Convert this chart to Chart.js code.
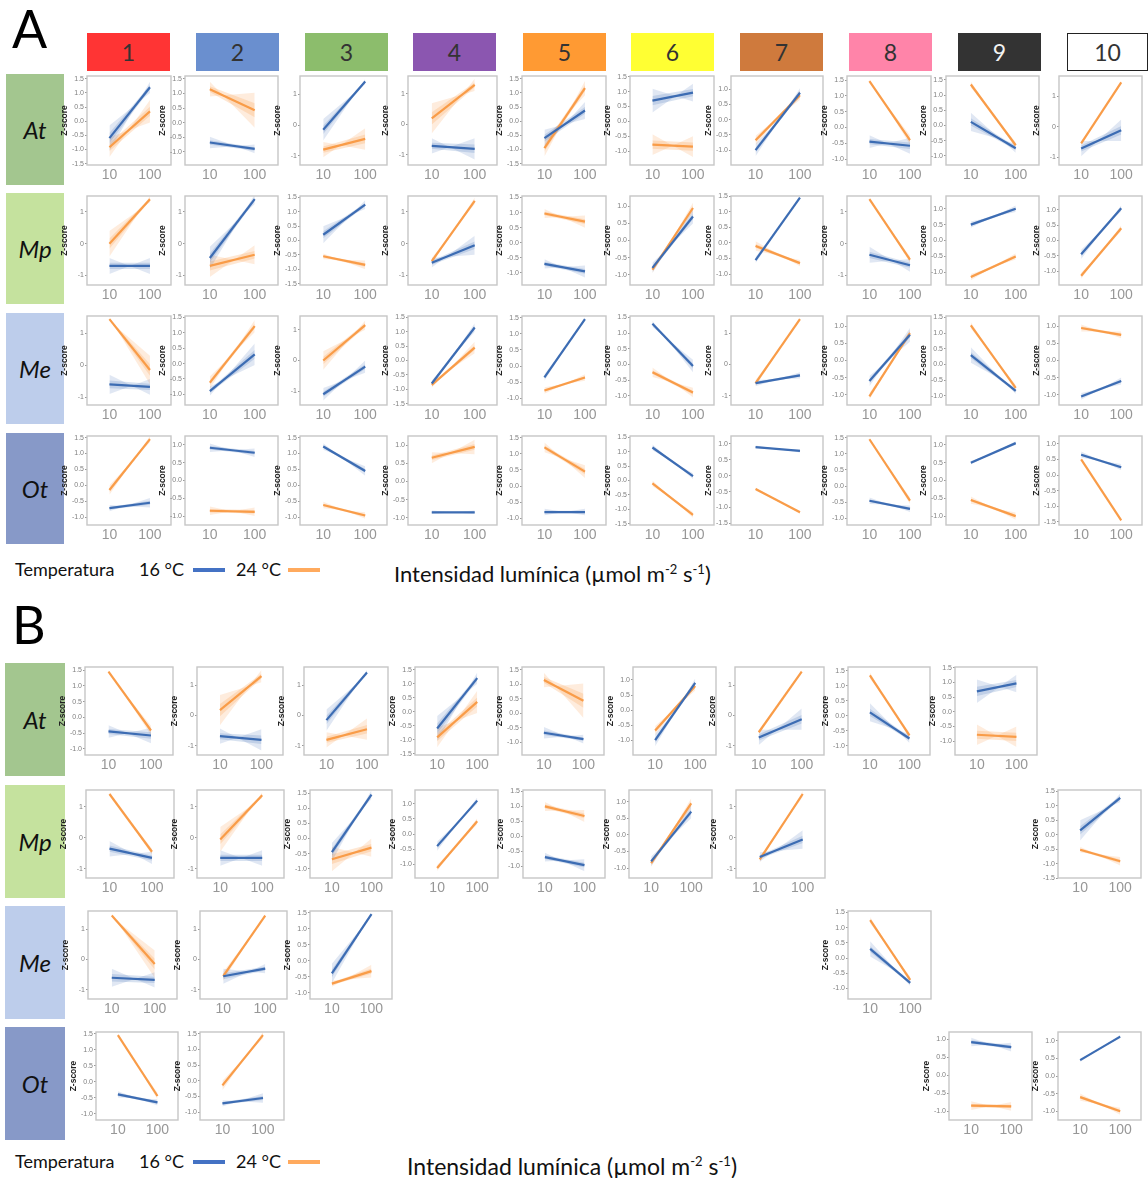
<!DOCTYPE html>
<html>
<head>
<meta charset="utf-8">
<script src="https://cdn.jsdelivr.net/npm/chart.js@4.4.1/dist/chart.umd.min.js"></script>
<style>
  html, body { margin: 0; padding: 0; background: #fff; }
  #page { position: relative; width: 1148px; height: 1178px; overflow: hidden; font-family: Lato, "Open Sans", sans-serif; }
  .abs { position: absolute; }
  .letter { font-size: 52px; line-height: 52px; color: #000; }
  .hdr { display: flex; align-items: center; justify-content: center; font-size: 23px; color: #333; box-sizing: border-box; }
  .rowlab { display: flex; align-items: center; justify-content: center; font-size: 24px; font-style: italic; color: #111; }
  .leg { font-size: 18px; color: #111; white-space: nowrap; line-height: 20px; }
  .sw { position: absolute; height: 4px; }
  .xl { font-size: 22px; color: #111; white-space: nowrap; line-height: 24px; }
  .xl sup { font-size: 13px; }
  canvas { position: absolute; }
</style>
</head>
<body>
<div id="page"></div>
<script>
// ---------- data: Z-score at 10 and 100 µmol m-2 s-1, per cluster ----------
const X_TICKS = [10, 100];
const CLUSTERS = ['1', '2', '3', '4', '5', '6', '7', '8', '9', '10'];
const SPECIES = ['At', 'Mp', 'Me', 'Ot'];

// Panel A: all ten clusters per species. [value at 10, value at 100]
const A_At_blue   = [[-0.6, 1.2], [-0.68, -0.9], [-0.15, 1.42], [-0.7, -0.8], [-0.6, 0.38], [0.7, 0.97], [-1.0, 0.88], [-0.45, -0.58], [0.12, -0.75], [-0.72, -0.12]];
const A_At_orange = [[-0.92, 0.35], [1.15, 0.43], [-0.8, -0.45], [0.2, 1.3], [-0.95, 1.17], [-0.78, -0.85], [-0.68, 0.8], [1.47, -0.4], [1.35, -0.65], [-0.55, 1.45]];
const A_At_y      = [[-1.55, 1.6, 0.5], [-1.45, 1.6, 0.5], [-1.3, 1.6, 1], [-1.33, 1.59, 1], [-1.55, 1.6, 0.5], [-1.47, 1.53, 0.5], [-1.49, 1.43, 0.5], [-1.19, 1.63, 0.5], [-1.3, 1.63, 0.5], [-1.26, 1.66, 1]];
const A_At_band   = [[0.45, 0.2, 0.35, 0.4], [0.2, 0.15, 0.25, 0.6], [0.35, 0.08, 0.25, 0.35], [0.25, 0.35, 0.5, 0.2], [0.3, 0.3, 0.3, 0.25], [0.4, 0.3, 0.35, 0.35], [0.2, 0.15, 0.15, 0.15], [0.2, 0.25, 0.05, 0.15], [0.3, 0.15, 0.1, 0.1], [0.25, 0.35, 0.05, 0.05]];

const A_Mp_blue   = [[-0.7, -0.7], [-0.45, 1.4], [0.2, 1.25], [-0.6, -0.05], [-0.7, -0.95], [-0.8, 0.7], [-0.55, 1.45], [-0.35, -0.68], [0.5, 1.0], [-0.45, 1.05]];
const A_Mp_orange = [[0.0, 1.4], [-0.7, -0.35], [-0.55, -0.85], [-0.55, 1.35], [0.97, 0.7], [-0.85, 0.95], [-0.1, -0.65], [1.4, -0.5], [-1.15, -0.5], [-1.15, 0.4]];
const A_Mp_y      = [[-1.3, 1.5, 1], [-1.3, 1.5, 1], [-1.55, 1.55, 0.5], [-1.3, 1.5, 1], [-1.4, 1.55, 0.5], [-1.3, 1.3, 0.5], [-1.35, 1.5, 0.5], [-1.3, 1.5, 1], [-1.4, 1.4, 0.5], [-1.45, 1.45, 0.5]];
const A_Mp_band   = [[0.25, 0.25, 0.4, 0.1], [0.35, 0.15, 0.35, 0.3], [0.3, 0.15, 0.1, 0.15], [0.15, 0.3, 0.1, 0.1], [0.15, 0.2, 0.15, 0.2], [0.15, 0.2, 0.1, 0.15], [0.1, 0.05, 0.15, 0.1], [0.25, 0.2, 0.05, 0.1], [0.1, 0.1, 0.1, 0.1], [0.15, 0.1, 0.1, 0.1]];

const A_Me_blue   = [[-0.6, -0.68], [-0.9, 0.3], [-1.1, -0.2], [-0.8, 1.15], [-0.35, 1.45], [1.3, -0.05], [-0.6, -0.35], [-0.6, 0.75], [0.3, -0.85], [-1.05, -0.6]];
const A_Me_orange = [[1.45, -0.15], [-0.62, 1.22], [0.0, 1.15], [-0.85, 0.45], [-0.75, -0.35], [-0.25, -0.9], [-0.6, 1.45], [-1.05, 0.8], [1.25, -0.75], [0.95, 0.75]];
const A_Me_y      = [[-1.25, 1.55, 1], [-1.35, 1.55, 0.5], [-1.45, 1.45, 1], [-1.55, 1.55, 0.5], [-1.2, 1.55, 0.5], [-1.3, 1.55, 0.5], [-1.3, 1.55, 1], [-1.3, 1.3, 0.5], [-1.3, 1.55, 0.5], [-1.3, 1.3, 0.5]];
const A_Me_band   = [[0.3, 0.25, 0.05, 0.45], [0.15, 0.35, 0.2, 0.2], [0.2, 0.2, 0.3, 0.15], [0.1, 0.15, 0.1, 0.2], [0.1, 0.05, 0.1, 0.1], [0.1, 0.2, 0.15, 0.15], [0.1, 0.1, 0.1, 0.05], [0.15, 0.2, 0.1, 0.1], [0.25, 0.1, 0.1, 0.1], [0.1, 0.1, 0.1, 0.1]];

const A_Ot_blue   = [[-0.72, -0.55], [0.92, 0.78], [1.22, 0.45], [-0.85, -0.85], [-0.8, -0.8], [1.15, 0.15], [0.9, 0.78], [-0.45, -0.7], [0.5, 1.05], [0.65, 0.25]];
const A_Ot_orange = [[-0.15, 1.45], [-0.85, -0.88], [-0.62, -0.95], [0.65, 0.95], [1.2, 0.45], [-0.1, -1.2], [-0.42, -1.15], [1.45, -0.45], [-0.55, -1.0], [0.5, -1.45]];
const A_Ot_y      = [[-1.25, 1.55, 0.5], [-1.25, 1.25, 0.5], [-1.25, 1.55, 0.5], [-1.2, 1.25, 0.5], [-1.2, 1.55, 0.5], [-1.55, 1.55, 0.5], [-1.55, 1.25, 0.5], [-1.2, 1.55, 0.5], [-1.25, 1.25, 0.5], [-1.6, 1.25, 0.5]];
const A_Ot_band   = [[0.1, 0.15, 0.15, 0.1], [0.12, 0.12, 0.12, 0.12], [0.1, 0.15, 0.1, 0.1], [0.05, 0.05, 0.15, 0.2], [0.1, 0.1, 0.15, 0.2], [0.1, 0.1, 0.1, 0.1], [0.05, 0.05, 0.05, 0.05], [0.1, 0.1, 0.05, 0.1], [0.05, 0.05, 0.1, 0.1], [0.1, 0.1, 0.05, 0.05]];

// Panel B: only the clusters present per species (1-based cluster numbers)
const B_At_cols   = [1, 2, 3, 4, 5, 6, 7, 8, 9];
const B_At_blue   = [[-0.45, -0.58], [-0.68, -0.8], [-0.15, 1.42], [-0.6, 1.2], [-0.68, -0.9], [-1.0, 0.9], [-0.72, -0.12], [0.12, -0.75], [0.7, 0.97]];
const B_At_orange = [[1.45, -0.42], [0.18, 1.3], [-0.8, -0.45], [-0.92, 0.35], [1.15, 0.43], [-0.68, 0.8], [-0.55, 1.45], [1.35, -0.65], [-0.78, -0.85]];
const B_At_y      = [[-1.2, 1.6, 0.5], [-1.3, 1.6, 1], [-1.3, 1.6, 1], [-1.55, 1.6, 0.5], [-1.45, 1.6, 0.5], [-1.49, 1.43, 0.5], [-1.3, 1.6, 1], [-1.3, 1.63, 0.5], [-1.47, 1.53, 0.5]];
const B_At_band   = [[0.2, 0.25, 0.05, 0.15], [0.25, 0.35, 0.5, 0.2], [0.35, 0.08, 0.25, 0.35], [0.45, 0.2, 0.35, 0.4], [0.2, 0.15, 0.25, 0.6], [0.2, 0.15, 0.15, 0.15], [0.25, 0.35, 0.05, 0.05], [0.3, 0.15, 0.1, 0.1], [0.4, 0.3, 0.35, 0.35]];

const B_Mp_cols   = [1, 2, 3, 4, 5, 6, 7, 10];
const B_Mp_blue   = [[-0.35, -0.65], [-0.65, -0.65], [-0.45, 1.45], [-0.4, 1.1], [-0.7, -0.97], [-0.8, 0.7], [-0.62, -0.05], [0.15, 1.28]];
const B_Mp_orange = [[1.42, -0.45], [-0.05, 1.38], [-0.68, -0.3], [-1.12, 0.42], [1.0, 0.68], [-0.85, 0.95], [-0.7, 1.42], [-0.52, -0.92]];
const B_Mp_y      = [[-1.3, 1.55, 1], [-1.3, 1.55, 1], [-1.3, 1.6, 0.5], [-1.45, 1.45, 0.5], [-1.4, 1.55, 0.5], [-1.3, 1.35, 0.5], [-1.3, 1.55, 1], [-1.5, 1.55, 0.5]];
const B_Mp_band   = [[0.25, 0.2, 0.05, 0.1], [0.25, 0.25, 0.4, 0.1], [0.3, 0.15, 0.4, 0.3], [0.15, 0.1, 0.1, 0.1], [0.15, 0.2, 0.15, 0.2], [0.15, 0.2, 0.1, 0.15], [0.15, 0.3, 0.1, 0.1], [0.35, 0.15, 0.1, 0.15]];

const B_Me_cols   = [1, 2, 3, 8];
const B_Me_blue   = [[-0.6, -0.67], [-0.55, -0.3], [-0.4, 1.45], [0.3, -0.82]];
const B_Me_orange = [[1.45, -0.15], [-0.55, 1.45], [-0.72, -0.33], [1.25, -0.72]];
const B_Me_y      = [[-1.3, 1.6, 1], [-1.3, 1.6, 1], [-1.2, 1.55, 0.5], [-1.35, 1.55, 0.5]];
const B_Me_band   = [[0.3, 0.25, 0.05, 0.45], [0.25, 0.15, 0.15, 0.05], [0.3, 0.05, 0.1, 0.2], [0.25, 0.1, 0.1, 0.1]];

const B_Ot_cols   = [1, 2, 9, 10];
const B_Ot_blue   = [[-0.4, -0.65], [-0.72, -0.55], [0.92, 0.78], [0.45, 1.12]];
const B_Ot_orange = [[1.45, -0.45], [-0.15, 1.45], [-0.85, -0.87], [-0.6, -1.0]];
const B_Ot_y      = [[-1.2, 1.55, 0.5], [-1.25, 1.55, 0.5], [-1.25, 1.2, 0.5], [-1.25, 1.25, 0.5]];
const B_Ot_band   = [[0.1, 0.1, 0.05, 0.1], [0.1, 0.15, 0.15, 0.1], [0.12, 0.12, 0.12, 0.12], [0.05, 0.05, 0.1, 0.1]];

// ---------- layout and styling ----------
const page = document.getElementById('page');
const BLUE = '#3c6cb3', ORANGE = '#f99c48';
const BLUE_FAN = 'rgba(60,108,179,0.16)', ORANGE_FAN = 'rgba(249,156,72,0.19)';
const BLUE_CORE = 'rgba(60,108,179,0.2)', ORANGE_CORE = 'rgba(249,156,72,0.24)';
const HEADER_COLORS = ['#ff3434', '#6a8fcf', '#8cbd6c', '#8b56b0', '#ff9a33', '#ffff33', '#cf7a3d', '#ff84a9', '#333333', '#ffffff'];
const HEADER_LEFT = [87, 196, 305, 413, 523, 631, 740, 849, 958, 1067];
const ROW_COLORS = ['#a3c68f', '#c5e29e', '#bdcdeb', '#8799c8'];

// plot-box x ranges per column (A) and per row (B)
const A_BOX_L = [87, 185, 300, 408, 522, 630, 731, 847, 946, 1059];
const A_BOX_R = [171, 278, 387, 497, 606, 714, 823, 931, 1039, 1142];
const A_ROW_TOP = [76, 196, 316, 436];
const B_ROW_TOP = [667, 790, 911, 1032];
const B_BOX = {
  At: [[85, 173], [197, 283], [304, 388], [415, 498], [522, 604], [633, 716], [735, 824], [848, 930], [955, 1037]],
  Mp: [[86, 174], [197, 284], [310, 392], [415, 498], [523, 605], [629, 712], [736, 825], [1058, 1141]],
  Me: [[88, 177], [200, 287], [310, 392], [848, 931]],
  Ot: [[96, 178], [200, 284], [949, 1032], [1058, 1141]]
};

function addDiv(cls, css, html) {
  const d = document.createElement('div');
  d.className = 'abs ' + cls;
  Object.assign(d.style, css);
  if (html !== undefined) d.innerHTML = html;
  page.appendChild(d);
  return d;
}

// border around each plotting area
const boxPlugin = {
  id: 'plotBox',
  afterDraw(chart) {
    const a = chart.chartArea, ctx = chart.ctx;
    ctx.save();
    ctx.strokeStyle = '#c6c6c6';
    ctx.lineWidth = 1.4;
    ctx.strokeRect(a.left, a.top, a.right - a.left, a.bottom - a.top);
    ctx.restore();
  }
};

function meanLine(v, color) {
  return { data: [{ x: 10, y: v[0] }, { x: 100, y: v[1] }], borderColor: color, borderWidth: 2.2, pointRadius: 0, fill: false };
}
// crossing envelope of the resampled fits (upper at 10 joins lower at 100)
function fan(v, ws, we, color) {
  return [
    { data: [{ x: 10, y: v[0] + ws }, { x: 100, y: v[1] - we }], borderColor: 'rgba(0,0,0,0)', borderWidth: 0.01, pointRadius: 0, fill: false },
    { data: [{ x: 10, y: v[0] - ws }, { x: 100, y: v[1] + we }], borderColor: 'rgba(0,0,0,0)', borderWidth: 0.01, pointRadius: 0, fill: '-1', backgroundColor: color }
  ];
}
// denser core of the resampled fits around the mean line
function core(v, ws, we, color) {
  return [
    { data: [{ x: 10, y: v[0] + ws * 0.4 }, { x: 100, y: v[1] + we * 0.4 }], borderColor: 'rgba(0,0,0,0)', borderWidth: 0.01, pointRadius: 0, fill: false },
    { data: [{ x: 10, y: v[0] - ws * 0.4 }, { x: 100, y: v[1] - we * 0.4 }], borderColor: 'rgba(0,0,0,0)', borderWidth: 0.01, pointRadius: 0, fill: '-1', backgroundColor: color }
  ];
}

function fmtTick(v, step) {
  const r = Math.abs(v) < 1e-9 ? 0 : v;
  return step < 1 ? r.toFixed(1) : r.toFixed(0);
}

function panel(boxL, boxR, boxT, boxH, blue, orange, yax, band) {
  const YW = 27, XH = 20, PT = 6, PR = 3;
  const w = YW + (boxR - boxL) + PR, h = PT + boxH + XH;
  const cv = document.createElement('canvas');
  cv.width = w; cv.height = h;
  cv.style.left = (boxL - YW) + 'px';
  cv.style.top = (boxT - PT) + 'px';
  cv.style.width = w + 'px';
  cv.style.height = h + 'px';
  page.appendChild(cv);
  const [bs, be, os, oe] = band;
  const datasets = [
    meanLine(blue, BLUE), meanLine(orange, ORANGE),
    ...core(blue, bs, be, BLUE_CORE), ...fan(blue, bs, be, BLUE_FAN),
    ...core(orange, os, oe, ORANGE_CORE), ...fan(orange, os, oe, ORANGE_FAN)
  ];
  const [yMin, yMax, step] = yax;
  new Chart(cv, {
    type: 'line',
    data: { datasets },
    plugins: [boxPlugin],
    options: {
      responsive: false, animation: false, maintainAspectRatio: false,
      layout: { padding: { top: PT, right: PR, left: 0, bottom: 0 } },
      plugins: { legend: { display: false }, tooltip: { enabled: false } },
      scales: {
        x: {
          type: 'logarithmic', min: 2.8, max: 330,
          afterBuildTicks: s => { s.ticks = X_TICKS.map(v => ({ value: v })); },
          afterFit: s => { s.height = XH; },
          grid: { display: false, drawTicks: false }, border: { display: false },
          ticks: { font: { size: 14, family: 'Liberation Sans' }, color: '#979797', padding: 2, autoSkip: false, maxRotation: 0, callback: v => String(v) }
        },
        y: {
          type: 'linear', min: yMin, max: yMax,
          afterBuildTicks: s => {
            const t = [];
            for (let k = Math.ceil(yMin / step - 1e-9); k * step <= yMax + 1e-9; k++) t.push({ value: Math.round(k * step * 100) / 100 });
            s.ticks = t;
          },
          afterFit: s => { s.width = YW; },
          grid: { display: true, drawOnChartArea: false, drawTicks: true, tickLength: 2, color: '#999' },
          border: { display: false },
          ticks: { font: { size: 7, family: 'Liberation Sans' }, color: '#808080', padding: 1, callback: v => fmtTick(v, step) },
          title: { display: true, text: 'Z-score', font: { size: 8.5, weight: 'bold', family: 'Liberation Sans' }, color: '#222', padding: { top: 0, bottom: 0 } }
        }
      }
    }
  });
}

// ---------- panel letters, cluster headers, species labels ----------
addDiv('letter', { left: '12px', top: '2px' }, 'A');
addDiv('letter', { left: '12px', top: '598px' }, 'B');

CLUSTERS.forEach((c, i) => {
  const css = { left: HEADER_LEFT[i] + 'px', top: '33px', width: (i === 9 ? 81 : 83) + 'px', height: '38px', background: HEADER_COLORS[i] };
  if (i === 8) css.color = '#f2f2f2';
  if (i === 9) css.border = '1px solid #222';
  addDiv('hdr', css, c);
});

const A_LAB_TOP = [74, 193, 313, 433], B_LAB_TOP = [663, 785, 906, 1027];
SPECIES.forEach((s, i) => {
  addDiv('rowlab', { left: '6px', top: A_LAB_TOP[i] + 'px', width: '58px', height: '111px', background: ROW_COLORS[i] }, s);
  addDiv('rowlab', { left: '5px', top: B_LAB_TOP[i] + 'px', width: '60px', height: '113px', background: ROW_COLORS[i] }, s);
});

// ---------- panel A grid ----------
const A_ROWS = [
  [A_At_blue, A_At_orange, A_At_y, A_At_band],
  [A_Mp_blue, A_Mp_orange, A_Mp_y, A_Mp_band],
  [A_Me_blue, A_Me_orange, A_Me_y, A_Me_band],
  [A_Ot_blue, A_Ot_orange, A_Ot_y, A_Ot_band]
];
A_ROWS.forEach(([bl, or, ya, bd], r) => {
  for (let c = 0; c < CLUSTERS.length; c++) {
    panel(A_BOX_L[c], A_BOX_R[c], A_ROW_TOP[r], 89, bl[c], or[c], ya[c], bd[c]);
  }
});

// ---------- panel B grid ----------
const B_ROWS = [
  ['At', B_At_cols, B_At_blue, B_At_orange, B_At_y, B_At_band],
  ['Mp', B_Mp_cols, B_Mp_blue, B_Mp_orange, B_Mp_y, B_Mp_band],
  ['Me', B_Me_cols, B_Me_blue, B_Me_orange, B_Me_y, B_Me_band],
  ['Ot', B_Ot_cols, B_Ot_blue, B_Ot_orange, B_Ot_y, B_Ot_band]
];
B_ROWS.forEach(([sp, cols, bl, or, ya, bd], r) => {
  cols.forEach((c, k) => {
    const [l, rr] = B_BOX[sp][k];
    panel(l, rr, B_ROW_TOP[r], 88, bl[k], or[k], ya[k], bd[k]);
  });
});

// ---------- legends and axis caption ----------
function legend(top, captionLeft, captionSize) {
  addDiv('leg', { left: '15px', top: top + 'px' }, 'Temperatura');
  addDiv('leg', { left: '139px', top: top + 'px' }, '16 °C');
  addDiv('sw', { left: '193px', top: (top + 9) + 'px', width: '32px', background: '#4472c4' });
  addDiv('leg', { left: '236px', top: top + 'px' }, '24 °C');
  addDiv('sw', { left: '288px', top: (top + 9) + 'px', width: '32px', background: '#ffaa5e' });
  addDiv('xl', { left: captionLeft + 'px', top: (top - 2) + 'px', fontSize: captionSize + 'px' }, 'Intensidad lumínica (µmol m<sup>-2</sup> s<sup>-1</sup>)');
}
legend(559, 394, 22);
legend(1151, 407, 23);
</script>
</body>
</html>
